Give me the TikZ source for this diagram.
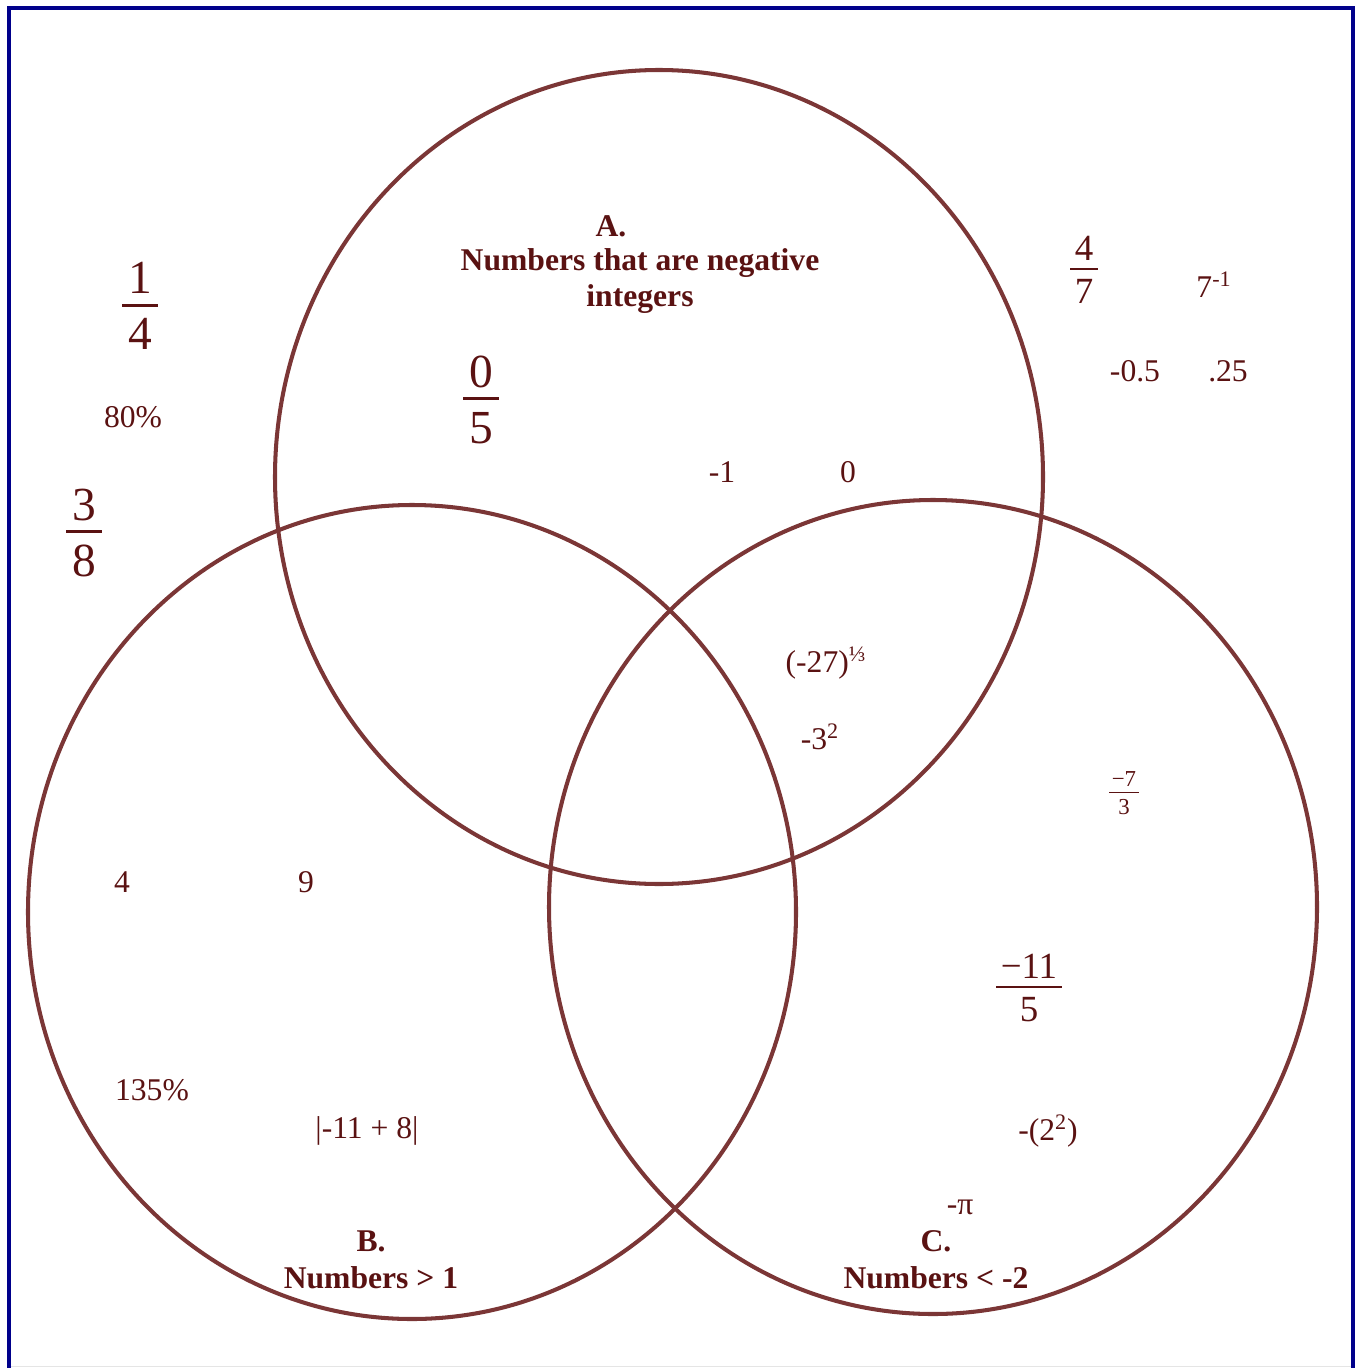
\documentclass[tikz,border=0pt]{standalone}
\usepackage{amsmath}
\usepackage{fontspec}
\setmainfont{Liberation Serif}
\usepackage{tikz}
\definecolor{ringbrown}{HTML}{7B3636}
\definecolor{inkbrown}{HTML}{5A1212}
\definecolor{framenavy}{HTML}{00008B}
\newcommand{\vfrac}[3][1.4pt]{$\genfrac{}{}{#1}{1}%
  {\hbox{\kern0.12em#2\kern0.12em\rule[-0.14em]{0pt}{0pt}}}%
  {\hbox{\rule{0pt}{0.84em}#3}}$}

\tikzset{
  ring/.style={draw=ringbrown,line width=2.3pt},
  entry/.style={text=inkbrown,inner sep=1pt,font=\fontsize{18}{21}\selectfont},
  bigfrac/.style={entry,font=\fontsize{27}{30}\selectfont},
  midfrac/.style={entry,font=\fontsize{21}{24}\selectfont},
  smallfrac/.style={entry,font=\fontsize{13}{15}\selectfont},
  setlabel/.style={entry,align=center,font=\fontsize{18}{21}\selectfont\bfseries}
}

\begin{document}
\begin{tikzpicture}[x=0.02cm,y=-0.02cm]
  \useasboundingbox (0,0) rectangle (1361,1368);
  % frame
  \draw[framenavy,line width=2.3pt] (9,1368) -- (9,8) -- (1353,8) -- (1353,1368);
  \draw[gray!20,line width=0.6pt] (11,1366.5) -- (1351,1366.5);
  % the three sets
  \coordinate (cA) at (659,477);
  \coordinate (cB) at (412,912);
  \coordinate (cC) at (933,907);
  \foreach \c in {cA,cB,cC}
    \draw[ring] (\c) ellipse (384 and 407);
  % set labels
  \node[setlabel] (titleA) at (611,226) {A.};
  \node[setlabel] (descA) at (640,281) {Numbers that are negative\\integers};
  \node[setlabel] (descB) at (371,1260) {B.\\Numbers > 1};
  \node[setlabel] (descC) at (936,1260) {C.\\Numbers < -2};
  % outside the sets
  \node[bigfrac] (quarter) at (140,306) {\vfrac[1.7pt]{1}{4}};
  \node[entry] (eighty) at (133,417) {80\%};
  \node[bigfrac] (threeeighths) at (84,533) {\vfrac[1.7pt]{3}{8}};
  \node[midfrac] (foursevenths) at (1084,270) {\vfrac[1.3pt]{4}{7}};
  \node[entry] (seveninv) at (1214,285) {7\textsuperscript{-1}};
  \node[entry] (minushalf) at (1135,371) {-0.5};
  \node[entry] (pointtwofive) at (1228,371) {.25};
  % set A
  \node[bigfrac] (zerofifths) at (481,400) {\vfrac[1.7pt]{0}{5}};
  \node[entry] (minusone) at (722,472) {-1};
  \node[entry] (zero) at (848,472) {0};
  % A and C
  \node[entry] (cuberoot) at (826,663) {(-27)\textsuperscript{⅓}};
  \node[entry] (minussquare) at (820,737) {-3\textsuperscript{2}};
  % set B
  \node[entry] (four) at (122,882) {4};
  \node[entry] (nine) at (306,882) {9};
  \node[entry] (onethirtyfive) at (152,1090) {135\%};
  \node[entry] (absval) at (367,1131) {|-11 + 8|};
  % set C
  \node[smallfrac] (minusseventhirds) at (1124,793) {\vfrac[1pt]{−7}{3}};
  \node[midfrac] (minuselevenfifths) at (1029,988) {\vfrac[1.3pt]{−11}{5}};
  \node[entry] (minuspow) at (1048,1131) {-(2\textsuperscript{2})};
  \node[entry] (minuspi) at (960,1207) {-π};
\end{tikzpicture}
\end{document}
